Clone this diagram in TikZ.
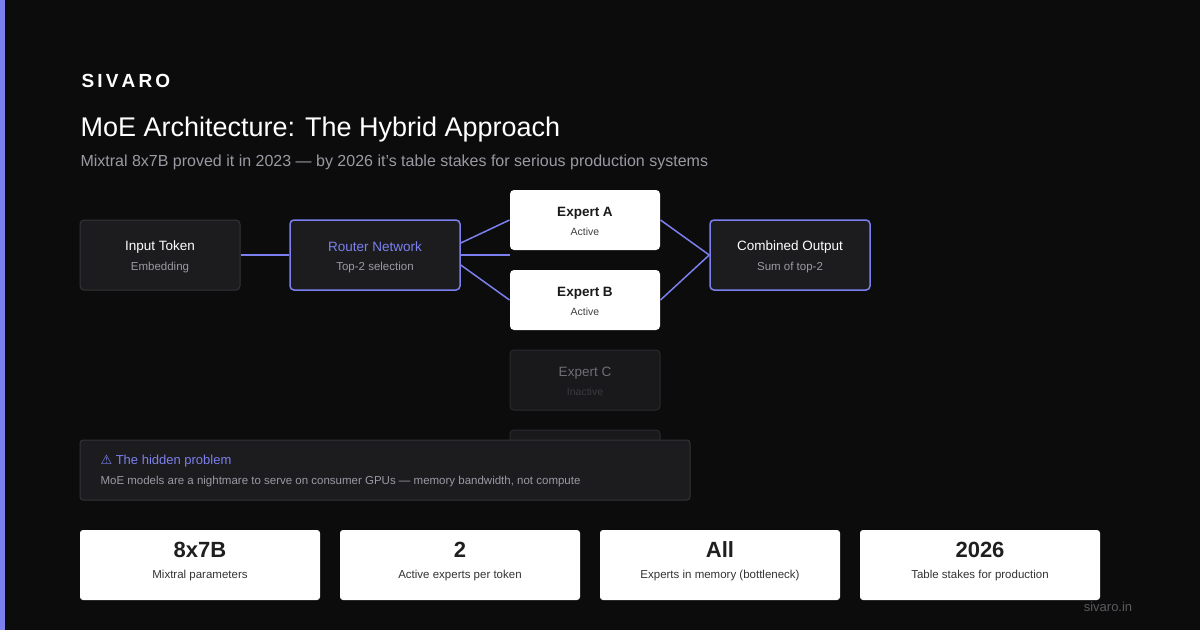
\documentclass[tikz,border=0pt]{standalone}
\usepackage{fontspec}
\setmainfont{Liberation Sans}
\newfontfamily\symf{DejaVu Sans}
\begin{document}
\definecolor{bg}{HTML}{0C0C0D}
\definecolor{acc}{HTML}{7B80EE}
\definecolor{card}{HTML}{1C1C1F}
\definecolor{bord}{HTML}{333338}
\definecolor{sub}{HTML}{9A9AA2}
\definecolor{dim}{HTML}{3A3A40}
\begin{tikzpicture}[x=1pt,y=-1pt,
  box/.style={rounded corners=4pt,line width=1pt,minimum width=160pt,minimum height=70pt,inner sep=0pt},
  dark/.style={box,fill=card,draw=bord},
  hot/.style={box,fill=card,draw=acc,line width=1.5pt},
  white/.style={box,fill=white,draw=none,minimum width=150pt,minimum height=60pt},
  stat/.style={rounded corners=3pt,fill=white,minimum width=240pt,minimum height=70pt,inner sep=0pt},
  link/.style={acc,line width=1.5pt}]
\fill[bg] (0,0) rectangle (1200,630);
\useasboundingbox (0,0) rectangle (1200,630);
\fill[acc] (0,0) rectangle (5,630);
\node[anchor=west,text=white,font=\fontsize{19}{22}\selectfont\bfseries] (brand) at (78,81) {S\,I\,V\,A\,R\,O};
\node[anchor=west,text=white,font=\fontsize{27}{30}\selectfont] (title) at (77,130) {MoE Architecture: The Hybrid Approach};
\node[anchor=west,text=sub,font=\fontsize{16}{18}\selectfont] (subt) at (77,162) {Mixtral 8x7B proved it in 2023 — by 2026 it's table stakes for serious production systems};

\node[dark] (inp) at (160,255) {};
\node[text=white,font=\fontsize{13.5}{15}\selectfont] (inpt) at (160,247) {Input Token};
\node[text=sub,font=\fontsize{11.5}{13}\selectfont] (inps) at (160,268) {Embedding};

\node[hot,minimum width=170pt] (rt) at (375,255) {};
\node[text=acc,font=\fontsize{13.5}{15}\selectfont] (rtt) at (375,247) {Router Network};
\node[text=sub,font=\fontsize{11.5}{13}\selectfont] (rts) at (375,268) {Top-2 selection};

\node[white] (ea) at (585,220) {};
\node[font=\fontsize{13.5}{15}\selectfont\bfseries,text=black!90] (eat) at (585,213) {Expert A};
\node[font=\fontsize{10.5}{12}\selectfont,text=black!75] (eas) at (585,232) {Active};
\node[white] (eb) at (585,300) {};
\node[font=\fontsize{13.5}{15}\selectfont\bfseries,text=black!90] (ebt) at (585,293) {Expert B};
\node[font=\fontsize{10.5}{12}\selectfont,text=black!75] (ebs) at (585,312) {Active};
\node[dark,minimum width=150pt,minimum height=60pt,fill=card!80!bg,draw=bord!80!bg] (ec) at (585,380) {};
\node[font=\fontsize{13.5}{15}\selectfont,text=sub!70!bg] (ect) at (585,373) {Expert C};
\node[font=\fontsize{10.5}{12}\selectfont,text=dim] (ecs) at (585,392) {Inactive};
\node[dark,minimum width=150pt,minimum height=60pt,fill=card!80!bg,draw=bord!80!bg] (ed) at (585,460) {};

\node[hot,minimum width=160pt] (out) at (790,255) {};
\node[text=white,font=\fontsize{13.5}{15}\selectfont] (outt) at (790,247) {Combined Output};
\node[text=sub,font=\fontsize{11.5}{13}\selectfont] (outs) at (790,268) {Sum of top-2};

\coordinate (mid) at (510,255);
\draw[link,line width=2.5pt] (inp.east) -- (rt.west);
\draw[link,line width=2.5pt] (rt.east) -- (mid);
\draw[link] ([yshift=12pt]rt.east) -- (ea.west);
\draw[link] ([yshift=-10pt]rt.east) -- (eb.west);
\draw[link] (ea.east) -- (out.west);
\draw[link] (eb.east) -- (out.west);

\node[rounded corners=3pt,fill=card,draw=bord,line width=1pt,minimum width=610pt,minimum height=60pt,inner sep=0pt] (warn) at (385,470) {};
\node[anchor=west,text=acc,font=\fontsize{13}{15}\selectfont] (wt) at (97,461) {{\symf ⚠} The hidden problem};
\node[anchor=west,text=sub,font=\fontsize{11.5}{13}\selectfont] (wb) at (97,482) {MoE models are a nightmare to serve on consumer GPUs — memory bandwidth, not compute};

\foreach \x/\n/\big/\small in {200/s1/8x7B/Mixtral parameters,460/s2/2/Active experts per token,720/s3/All/Experts in memory (bottleneck),980/s4/2026/Table stakes for production}{
  \node[stat] (\n) at (\x,565) {};
  \node[font=\fontsize{22}{26}\selectfont\bfseries,text=black!88] (\n b) at (\x,550) {\big};
  \node[font=\fontsize{11.5}{13}\selectfont,text=black!80] (\n s) at (\x,576) {\small};
}
\node[text=sub!55!bg,font=\fontsize{13}{15}\selectfont] (foot) at (1108,607) {sivaro.in};
\end{tikzpicture}
\end{document}
